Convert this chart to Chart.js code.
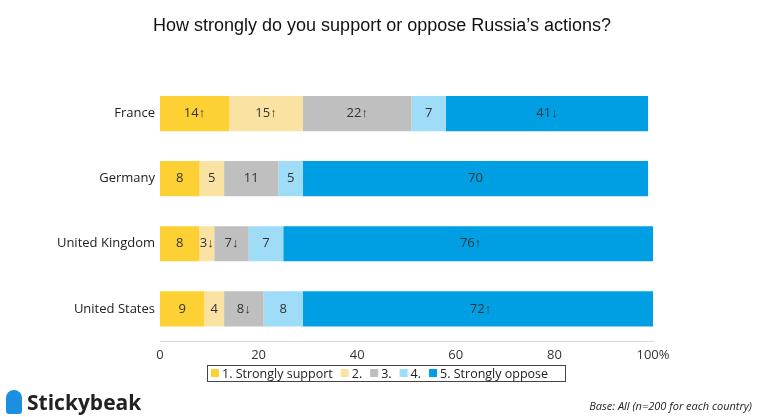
<!DOCTYPE html>
<html><head><meta charset="utf-8">
<script src="https://cdn.jsdelivr.net/npm/chart.js@4"></script>
<style>body{margin:0;background:#fff}#wrap{width:764px;height:417px;position:relative}
#title{position:absolute;left:0;width:764px;top:15px;text-align:center;font:18px "Liberation Sans",Arial,sans-serif;color:#111}
#logo{position:absolute;left:6px;top:388px;font:bold 21px "Open Sans",sans-serif;color:#222}
#logo span{display:inline-block;width:16px;height:24px;background:#1d8fe0;border-radius:8px 8px 3px 3px;vertical-align:-4px;margin-right:5px}
#base{position:absolute;right:12px;top:398px;font:italic 11px "Open Sans",sans-serif;color:#222}</style>
</head><body><div id="wrap"><canvas id="c" width="764" height="417"></canvas>
<div id="title">How strongly do you support or oppose Russia’s actions?</div>
<div id="logo"><span></span>Stickybeak</div><div id="base">Base: All (n=200 for each country)</div></div>
<script>
var countries = ["France", "Germany", "United Kingdom", "United States"];
var seriesNames = ["1. Strongly support", "2.", "3.", "4.", "5. Strongly oppose"];
var colors = ["#fdd033", "#fae3a2", "#bfbfbf", "#9fdcf8", "#009fe3"];
var s1 = [14, 8, 8, 9];
var s2 = [15, 5, 3, 4];
var s3 = [22, 11, 7, 8];
var s4 = [7, 5, 7, 8];
var s5 = [41, 70, 76, 72];
var l1 = ["14↑", "8", "8", "9"];
var l2 = ["15↑", "5", "3↓", "4"];
var l3 = ["22↑", "11", "7↓", "8↓"];
var l4 = ["7", "5", "7", "8"];
var l5 = ["41↓", "70", "76↑", "72↑"];
var xTicks = ["0", "20", "40", "60", "80", "100%"];

var vals = [s1, s2, s3, s4, s5], labs = [l1, l2, l3, l4, l5];
var datasets = seriesNames.map(function (n, i) {
  return { label: n, data: vals[i], backgroundColor: colors[i], labelText: labs[i],
    categoryPercentage: 1, barPercentage: 0.54 };
});

var segLabels = {
  id: 'segLabels',
  afterDatasetsDraw: function (chart) {
    var ctx = chart.ctx;
    ctx.save();
    ctx.font = '13px "Open Sans", sans-serif';
    ctx.fillStyle = '#333';
    ctx.textAlign = 'center';
    ctx.textBaseline = 'middle';
    chart.data.datasets.forEach(function (ds, i) {
      chart.getDatasetMeta(i).data.forEach(function (bar, j) {
        ctx.fillText(ds.labelText[j], (bar.x + bar.base) / 2, bar.y);
      });
    });
    // legend box
    ctx.strokeStyle = '#444';
    ctx.lineWidth = 1;
    ctx.strokeRect(207.5, 365.5, 358, 16);
    ctx.textAlign = 'left';
    ctx.font = '12.5px "Open Sans", sans-serif';
    var x = 211;
    chart.data.datasets.forEach(function (ds) {
      ctx.fillStyle = ds.backgroundColor;
      ctx.fillRect(x, 369, 8, 8);
      x += 11;
      ctx.fillStyle = '#222';
      ctx.fillText(ds.label, x, 374);
      x += ctx.measureText(ds.label).width + 8;
    });
    ctx.restore();
  }
};

new Chart(document.getElementById("c"), {
  type: 'bar',
  data: { labels: countries, datasets: datasets },
  plugins: [segLabels],
  options: {
    indexAxis: 'y',
    responsive: false,
    animation: false,
    layout: { padding: { left: 0, right: 111, top: 81, bottom: 48 } },
    scales: {
      x: {
        stacked: true, min: 0, max: 100,
        grid: { display: false, drawTicks: false },
        border: { color: '#d9d9d9' },
        ticks: { stepSize: 20, color: '#333', padding: 6,
          font: { family: 'Open Sans', size: 13 },
          callback: function (v, i) { return xTicks[i]; } }
      },
      y: {
        stacked: true,
        grid: { display: false, drawTicks: false },
        border: { display: false },
        afterFit: function (s) { s.width = 160; },
        ticks: { color: '#222', padding: 5, font: { family: 'Open Sans', size: 13 } }
      }
    },
    plugins: {
      legend: { display: false },
      tooltip: { enabled: false }
    }
  }
});
</script></body></html>
